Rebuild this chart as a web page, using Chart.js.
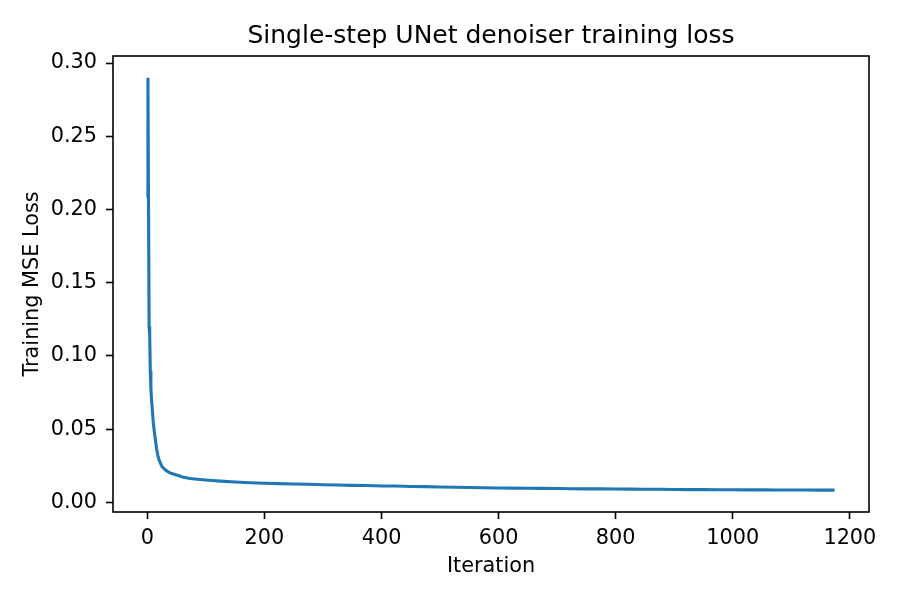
<!DOCTYPE html>
<html>
<head>
<meta charset="utf-8">
<script src="https://cdn.jsdelivr.net/npm/chart.js@4"></script>
<style>
  body { margin: 0; background: #fff; }
  canvas { display: block; }
</style>
</head>
<body>
<canvas id="chart" width="900" height="600"></canvas>
<script>
// data
const ITERATIONS = [
  0, 1, 2, 3, 4, 5, 6, 7, 8, 10, 12, 14, 16, 18, 20, 25, 30, 35, 40, 50, 60, 73, 90,
  110, 125, 150, 175, 200, 225, 250, 275, 300, 325, 350, 375, 400, 425, 450, 475,
  500, 525, 550, 575, 600, 625, 650, 675, 700, 725, 750, 775, 800, 825, 850, 875,
  900, 925, 950, 975, 1000, 1025, 1050, 1075, 1100, 1125, 1150, 1174
]
const LOSS = [
  0.208, 0.290, 0.200, 0.120, 0.114, 0.090, 0.078, 0.071, 0.066, 0.055, 0.048, 0.042, 0.036, 0.032, 0.029, 0.0245, 0.0225, 0.0210, 0.0200, 0.0188, 0.0174, 0.0164, 0.0157,
  0.0150, 0.0146, 0.0140, 0.0135, 0.0131, 0.0129, 0.0126, 0.0124, 0.0121, 0.0119, 0.0117, 0.0116, 0.0113, 0.0112, 0.0109, 0.0108,
  0.0106, 0.0104, 0.0102, 0.0101, 0.0099, 0.0098, 0.0097, 0.0096, 0.0095, 0.0094, 0.0093, 0.0093, 0.0092, 0.0091, 0.0090, 0.0090,
  0.0089, 0.0088, 0.0088, 0.0087, 0.0087, 0.0086, 0.0086, 0.0085, 0.0085, 0.0085, 0.0084, 0.0084
]
const X_TICKS = [0, 200, 400, 600, 800, 1000, 1200]
const Y_TICKS = [0, 0.05, 0.10, 0.15, 0.20, 0.25, 0.30]

const FONT = "DejaVu Sans"
Chart.defaults.font.family = FONT
Chart.defaults.color = "#000"

// matplotlib style box + title
const frame = {
  id: "frame",
  afterDraw(chart) {
    const { ctx, chartArea: a } = chart
    ctx.save()
    ctx.strokeStyle = "#000"
    ctx.lineWidth = 1.6
    ctx.strokeRect(a.left, a.top, a.right - a.left, a.bottom - a.top)
    ctx.fillStyle = "#000"
    ctx.font = "25px '" + FONT + "'"
    ctx.textAlign = "center"
    ctx.textBaseline = "alphabetic"
    ctx.fillText("Single-step UNet denoiser training loss", (a.left + a.right) / 2, 43)
    ctx.restore()
  }
}

const ctx = document.getElementById("chart")

new Chart(ctx, {
  type: "line",
  data: {
    datasets: [
      {
        label: "loss",
        data: ITERATIONS.map((x, i) => ({ x: x, y: LOSS[i] })),
        borderColor: "#1f77b4",
        borderWidth: 3.1,
        pointRadius: 0,
        tension: 0,
        fill: false,
      },
    ],
  },
  options: {
    responsive: false,
    animation: false,
    devicePixelRatio: 1,
    layout: {
      padding: { top: 56, right: 31, left: 0, bottom: 0 },
    },
    plugins: {
      legend: { display: false },
      tooltip: { enabled: false },
    },
    scales: {
      x: {
        type: "linear",
        min: -58.7,
        max: 1232.7,
        afterBuildTicks: s => { s.ticks = X_TICKS.map(v => ({ value: v })) },
        afterFit: s => { s.height = 88; s.paddingLeft = 0; s.paddingRight = 0 },
        border: { display: false },
        grid: {
          drawOnChartArea: false,
          tickLength: 7,
          tickColor: "#000",
          tickWidth: 1.6,
        },
        ticks: {
          padding: 7,
          maxRotation: 0,
          autoSkip: false,
          font: { size: 20.8 },
          callback: v => String(v),
        },
        title: {
          display: true,
          text: "Iteration",
          font: { size: 20.8, lineHeight: 1.2 },
          padding: { top: 0, bottom: 21 },
        },
      },
      y: {
        min: -0.0065,
        max: 0.3048,
        afterBuildTicks: s => { s.ticks = Y_TICKS.map(v => ({ value: v })) },
        afterFit: s => { s.width = 113; s.paddingTop = 0; s.paddingBottom = 0 },
        border: { display: false },
        grid: {
          drawOnChartArea: false,
          tickLength: 7,
          tickColor: "#000",
          tickWidth: 1.6,
        },
        ticks: {
          padding: 9,
          autoSkip: false,
          font: { size: 20.8 },
          callback: v => v.toFixed(2),
        },
        title: {
          display: true,
          text: "Training MSE Loss",
          font: { size: 20.8, lineHeight: 1.2 },
          padding: { top: 20, bottom: 0 },
        },
      },
    },
  },
  plugins: [frame],
})
</script>
</body>
</html>
